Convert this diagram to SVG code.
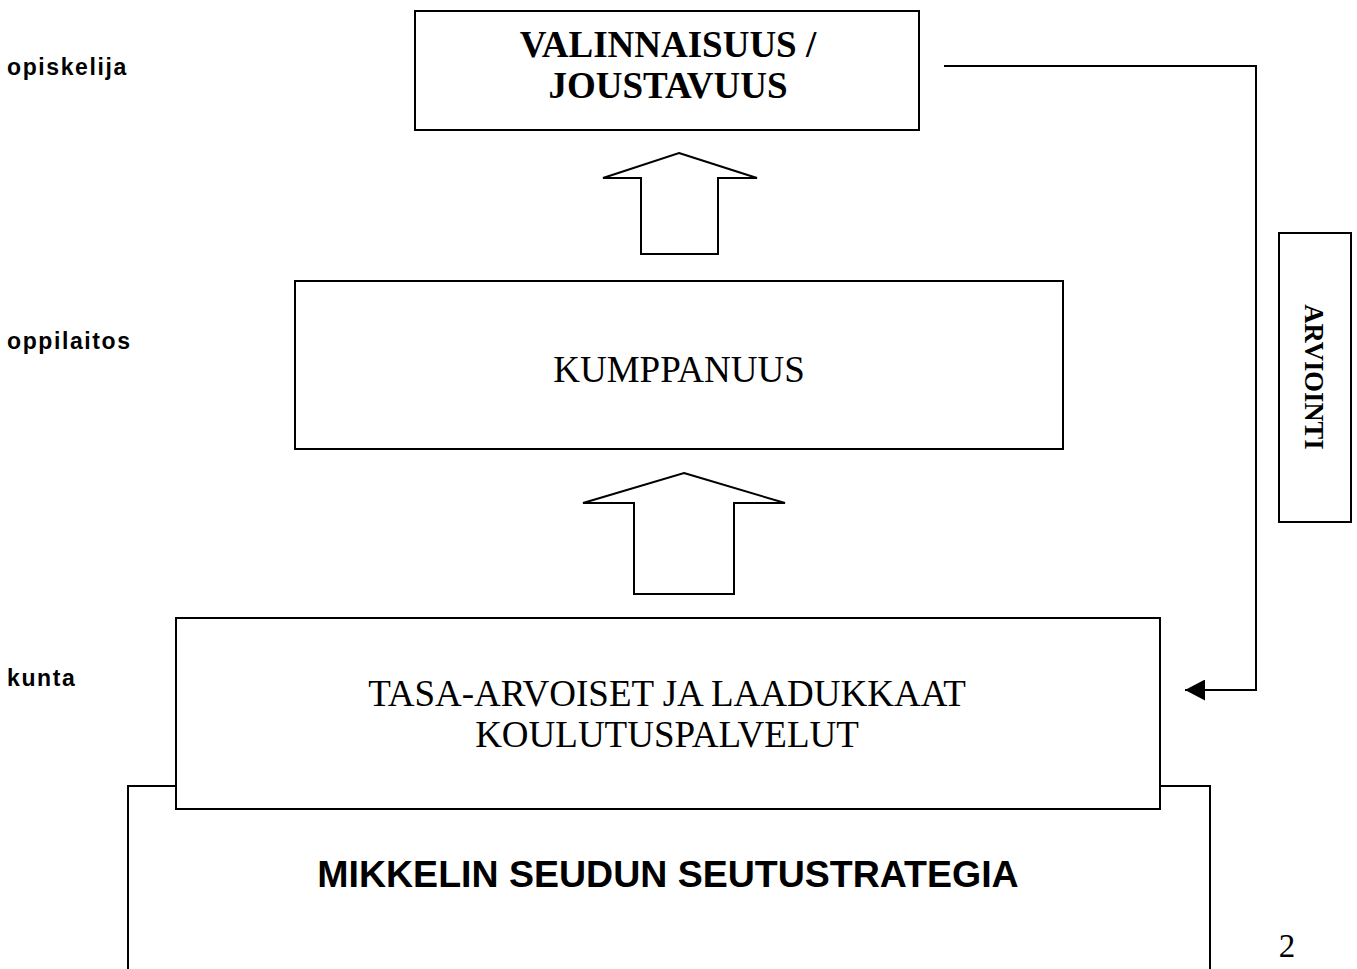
<svg xmlns="http://www.w3.org/2000/svg" width="1357" height="969" viewBox="0 0 1357 969">
<style>
.box{fill:#fff;stroke:#000;stroke-width:2}
.blk{fill:#fff;stroke:#000;stroke-width:2;stroke-linejoin:miter}
.serif{font-family:"Liberation Serif","Times New Roman",serif;fill:#000}
.sans{font-family:"Liberation Sans",Arial,sans-serif;fill:#000}
.lvl{font-family:"Liberation Sans",Arial,sans-serif;font-weight:bold;font-size:23px;letter-spacing:1.6px;fill:#000}
.conn{fill:none;stroke:#000;stroke-width:2}
</style>
<defs>
<marker id="ah" markerWidth="20" markerHeight="21" refX="20" refY="10.5" orient="auto" markerUnits="userSpaceOnUse">
<path d="M0,0 L20,10.5 L0,21 Z" fill="#000"/>
</marker>
</defs>
<rect width="1357" height="969" fill="#fff"/>
<g id="levels">
<text class="lvl" x="7" y="75">opiskelija</text>
<text class="lvl" x="7" y="349">oppilaitos</text>
<text class="lvl" x="7" y="686">kunta</text>
</g>
<g id="strategia">
<path class="conn" d="M128,969 V786 H1210 V969"/>
<text class="sans" x="668" y="887" font-size="37.5" font-weight="bold" text-anchor="middle">MIKKELIN SEUDUN SEUTUSTRATEGIA</text>
</g>
<g id="valinnaisuus">
<rect class="box" x="415" y="11" width="504" height="119"/>
<text class="serif" x="668" y="57" font-size="37" font-weight="bold" text-anchor="middle">VALINNAISUUS /</text>
<text class="serif" x="668" y="98" font-size="37" font-weight="bold" text-anchor="middle">JOUSTAVUUS</text>
</g>
<g id="kumppanuus">
<rect class="box" x="295" y="281" width="768" height="168"/>
<text class="serif" x="679" y="382" font-size="37" text-anchor="middle">KUMPPANUUS</text>
</g>
<g id="kunta">
<rect class="box" x="176" y="618" width="984" height="191"/>
<text class="serif" x="667" y="706" font-size="37" text-anchor="middle">TASA-ARVOISET JA LAADUKKAAT</text>
<text class="serif" x="667" y="747" font-size="37" text-anchor="middle">KOULUTUSPALVELUT</text>
</g>
<g id="arviointi">
<rect class="box" x="1279" y="233" width="72" height="289"/>
<text class="serif" font-size="28" font-weight="bold" text-anchor="middle" transform="translate(1305,377) rotate(90) scale(0.95,1)">ARVIOINTI</text>
</g>
<g id="connectors">
<polygon class="blk" points="679,153 757,178 718,178 718,254 641,254 641,178 603,178"/>
<polygon class="blk" points="684,473 785,503 734,503 734,594 634,594 634,503 583,503"/>
<path class="conn" d="M944,66 H1256 V690 H1185" marker-end="url(#ah)"/>
</g>
<text class="serif" x="1287" y="957" font-size="33" text-anchor="middle">2</text>
</svg>
